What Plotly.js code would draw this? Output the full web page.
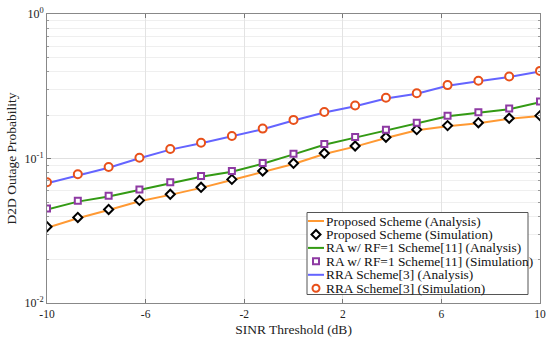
<!DOCTYPE html>
<html>
<head>
<meta charset="utf-8">
<script src="https://cdn.plot.ly/plotly-3.0.1.min.js"></script>
<style>html,body{margin:0;padding:0;background:#fff;}#chart{width:550px;height:340px;}</style>
</head>
<body>
<div id="chart"></div>
<script>
const sinr = [-10, -8.75, -7.5, -6.25, -5, -3.75, -2.5, -1.25, 0, 1.25, 2.5, 3.75, 5, 6.25, 7.5, 8.75, 10];
const proposedSim = [0.0337, 0.0391, 0.0444, 0.0513, 0.0565, 0.0632, 0.0717, 0.0819, 0.0926, 0.1087, 0.1221, 0.1403, 0.1584, 0.1689, 0.177, 0.19, 0.198];
const proposedAna = [0.0332, 0.0386, 0.0440, 0.0506, 0.0560, 0.0626, 0.0710, 0.0810, 0.0916, 0.1075, 0.1208, 0.1388, 0.1566, 0.1672, 0.1755, 0.1882, 0.1965];
const raSim = [0.0451, 0.0510, 0.0552, 0.0611, 0.0684, 0.0756, 0.0819, 0.0931, 0.108, 0.126, 0.141, 0.1584, 0.177, 0.198, 0.209, 0.2215, 0.2477];
const raAna = [0.0444, 0.0503, 0.0545, 0.0604, 0.0676, 0.0748, 0.0810, 0.0920, 0.1068, 0.1246, 0.1395, 0.1568, 0.1752, 0.1960, 0.2070, 0.2195, 0.2450];
const rraSim = [0.0684, 0.0777, 0.0873, 0.1013, 0.1164, 0.1287, 0.1432, 0.161, 0.185, 0.210, 0.2324, 0.263, 0.283, 0.322, 0.345, 0.369, 0.404];
const rraAna = [0.0675, 0.0768, 0.0864, 0.1003, 0.1152, 0.1275, 0.1418, 0.1595, 0.1832, 0.2080, 0.2302, 0.2605, 0.2805, 0.3190, 0.3420, 0.3660, 0.4000];
const names = ['Proposed Scheme (Analysis)', 'Proposed Scheme (Simulation)', 'RA w/ RF=1 Scheme[11] (Analysis)', 'RA w/ RF=1 Scheme[11] (Simulation)', 'RRA Scheme[3] (Analysis)', 'RRA Scheme[3] (Simulation)'];
const xTicks = [-10, -6, -2, 2, 6, 10];
const yTicks = [0.01, 0.1, 1];
const yTickText = ['10<sup>-2</sup>', '10<sup>-1</sup>', '10<sup>0</sup>'];
const yMinor = [0.02,0.03,0.04,0.05,0.06,0.07,0.08,0.09,0.2,0.3,0.4,0.5,0.6,0.7,0.8,0.9];

const C = {orange: '#ff9933', green: '#339a14', blue: '#6464ff', black: '#000000', purple: '#8e3aa3', red: '#e8501a'};
const FAM = '"Liberation Serif", "Times New Roman", serif';

const styles = [
  {kind: 'line', color: C.orange},
  {kind: 'diamond', color: C.black},
  {kind: 'line', color: C.green},
  {kind: 'square', color: C.purple},
  {kind: 'line', color: C.blue},
  {kind: 'circle', color: C.red}
];

const traces = [
  {x: sinr, y: proposedAna, name: names[0], mode: 'lines', line: {color: C.orange, width: 2}},
  {x: sinr, y: proposedSim, name: names[1], mode: 'markers', marker: {symbol: 'diamond', size: 7, color: '#ffffff', line: {color: C.black, width: 2}}},
  {x: sinr, y: raAna, name: names[2], mode: 'lines', line: {color: C.green, width: 2}},
  {x: sinr, y: raSim, name: names[3], mode: 'markers', marker: {symbol: 'square', size: 6, color: '#ffffff', line: {color: C.purple, width: 2}}},
  {x: sinr, y: rraAna, name: names[4], mode: 'lines', line: {color: C.blue, width: 2}},
  {x: sinr, y: rraSim, name: names[5], mode: 'markers', marker: {symbol: 'circle', size: 8, color: '#ffffff', line: {color: C.red, width: 2}}}
];

// plot area in pixels: left 47, right 540, top 14, bottom 303
const M = {l: 47, r: 10, t: 14, b: 37};
const W = 550, H = 340;
const pw = W - M.l - M.r, ph = H - M.t - M.b;
const px = p => (p - M.l) / pw;
const py = p => (H - M.b - p) / ph;

const shapes = [];
const annotations = [];
// legend box
shapes.push({type: 'rect', xref: 'paper', yref: 'paper', x0: px(307), x1: px(528), y0: py(294.5), y1: py(212.5),
  fillcolor: '#ffffff', line: {color: '#555555', width: 1}, layer: 'above'});
const rowTop = 221, rowStep = 13.45;
names.forEach((nm, i) => {
  const yy = py(rowTop + i * rowStep);
  const st = styles[i];
  const cx = px(316);
  if (st.kind === 'line') {
    shapes.push({type: 'line', xref: 'paper', yref: 'paper', x0: px(308), x1: px(324), y0: yy, y1: yy,
      line: {color: st.color, width: 2}, layer: 'above'});
  } else if (st.kind === 'circle') {
    shapes.push({type: 'circle', xref: 'paper', yref: 'paper', xsizemode: 'pixel', ysizemode: 'pixel',
      xanchor: cx, yanchor: yy, x0: -3.5, x1: 3.5, y0: -3.5, y1: 3.5,
      fillcolor: '#ffffff', line: {color: st.color, width: 2}, layer: 'above'});
  } else if (st.kind === 'square') {
    shapes.push({type: 'rect', xref: 'paper', yref: 'paper', xsizemode: 'pixel', ysizemode: 'pixel',
      xanchor: cx, yanchor: yy, x0: -3, x1: 3, y0: -3, y1: 3,
      fillcolor: '#ffffff', line: {color: st.color, width: 2}, layer: 'above'});
  } else if (st.kind === 'diamond') {
    shapes.push({type: 'path', xref: 'paper', yref: 'paper', xsizemode: 'pixel', ysizemode: 'pixel',
      xanchor: cx, yanchor: yy, path: 'M 0 -4.5 L 4.5 0 L 0 4.5 L -4.5 0 Z',
      fillcolor: '#ffffff', line: {color: st.color, width: 2}, layer: 'above'});
  }
  annotations.push({xref: 'paper', yref: 'paper', x: px(325), y: yy, xanchor: 'left', yanchor: 'middle',
    text: nm, showarrow: false, font: {family: FAM, size: 13.4, color: '#111'}, borderpad: 0});
});

const layout = {
  width: W, height: H,
  margin: M,
  paper_bgcolor: '#fff', plot_bgcolor: '#fff',
  font: {family: FAM, size: 12, color: '#222'},
  showlegend: false,
  shapes: shapes,
  annotations: annotations,
  xaxis: {
    range: [-10, 10], tickvals: xTicks, ticktext: xTicks.map(String),
    ticks: 'inside', ticklen: 4, tickcolor: '#777',
    showline: true, linecolor: '#888', linewidth: 1, mirror: 'ticks',
    showgrid: true, gridcolor: '#e3e3e3', zeroline: false,
    tickfont: {family: FAM, size: 11.5, color: '#222'},
    title: {text: 'SINR Threshold (dB)', font: {family: FAM, size: 13.5, color: '#222'}, standoff: 5}
  },
  yaxis: {
    type: 'log', range: [-2, 0], tickvals: yTicks, ticktext: yTickText,
    ticks: 'inside', ticklen: 4, tickcolor: '#777',
    showline: true, linecolor: '#888', linewidth: 1, mirror: 'ticks',
    showgrid: true, gridcolor: '#e0e0e0', zeroline: false,
    tickfont: {family: FAM, size: 12, color: '#222'},
    minor: {tickvals: yMinor, ticks: 'inside', ticklen: 2, tickcolor: '#999', showgrid: true, gridcolor: '#efefef'},
    title: {text: 'D2D Outage Probability', font: {family: FAM, size: 13.5, color: '#222'}, standoff: 4}
  }
};
Plotly.newPlot('chart', traces, layout, {displayModeBar: false, staticPlot: true});
</script>
</body>
</html>
